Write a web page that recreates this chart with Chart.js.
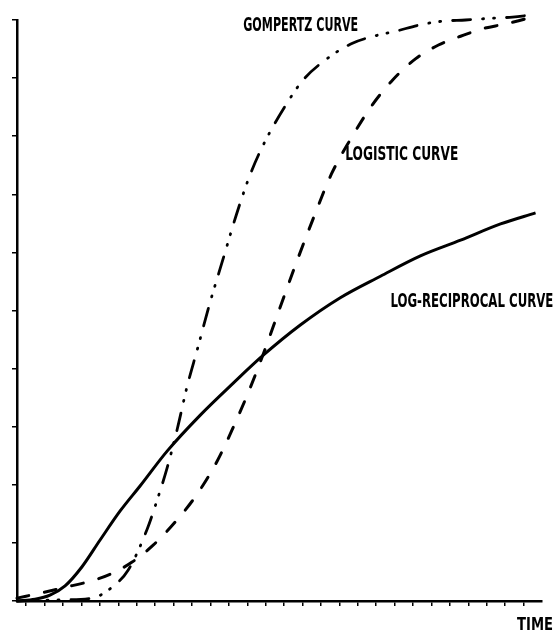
<!DOCTYPE html>
<html>
<head>
<meta charset="utf-8">
<script src="https://cdn.jsdelivr.net/npm/chart.js@4.4.0/dist/chart.umd.min.js"></script>
<style>
    html, body { margin: 0; padding: 0; background: #fff; }
    #wrap { width: 554px; height: 632px; position: relative; }
</style>
</head>
<body>
<div id="wrap"><canvas id="growthChart"></canvas></div>
<script>
// Axis tick values (no tick labels on the original, only marks)
const xTicks = [0, 1, 2, 3, 4, 5, 6, 7, 8, 9, 10, 11, 12, 13, 14, 15, 16, 17, 18, 19, 20, 21, 22, 23, 24, 25, 26, 27];
const yTicks = [0, 1, 2, 3, 4, 5, 6, 7, 8, 9, 10];

// Curves (time units, growth units)
const gompertzX = [-0.50, 1.84, 3.58, 4.55, 5.53, 6.57, 7.11, 7.65, 8.20, 8.74, 9.28, 9.99, 10.70, 11.40, 12.11, 12.87, 14.12, 15.04, 16.40, 17.71, 18.85, 20.10, 21.29, 22.60, 23.85, 25.21, 26.40, 27.49];
const gompertzY = [0, 0.02, 0.05, 0.21, 0.53, 1.24, 1.74, 2.29, 2.96, 3.70, 4.32, 5.15, 5.90, 6.64, 7.30, 7.85, 8.55, 8.97, 9.35, 9.60, 9.72, 9.81, 9.91, 9.98, 10.00, 10.03, 10.05, 10.09];

const logisticX = [-0.50, 0.97, 2.16, 3.36, 4.55, 5.75, 6.89, 8.09, 9.28, 10.37, 11.24, 12.11, 12.87, 13.79, 14.72, 15.64, 16.57, 17.65, 18.79, 19.93, 21.13, 22.38, 23.58, 24.77, 25.97, 27.22, 27.82];
const logisticY = [0.05, 0.15, 0.24, 0.33, 0.46, 0.67, 0.96, 1.36, 1.84, 2.41, 2.99, 3.63, 4.25, 5.06, 5.87, 6.63, 7.35, 7.97, 8.54, 8.98, 9.33, 9.57, 9.72, 9.85, 9.93, 10.03, 10.09];

const logRecipX = [-0.50, 0.48, 1.29, 2.11, 3.03, 4.01, 5.10, 6.18, 7.65, 9.45, 11.24, 12.87, 14.88, 17.05, 19.23, 21.40, 23.58, 25.75, 27.65];
const logRecipY = [0, 0.03, 0.10, 0.26, 0.59, 1.05, 1.55, 1.98, 2.58, 3.20, 3.75, 4.23, 4.75, 5.22, 5.59, 5.94, 6.21, 6.49, 6.68];

const curveNames = ['GOMPERTZ CURVE', 'LOGISTIC CURVE', 'LOG-RECIPROCAL CURVE'];
const timeTitle = 'TIME';

const LABEL_FONT = '"Liberation Sans Narrow", "DejaVu Sans Condensed", sans-serif';

function toPoints(xs, ys) {
    return xs.map((x, i) => ({ x: x, y: ys[i] }));
}

// squeeze text to a given width, like the plotter lettering
function drawFitted(ctx, text, left, baseline, width, size) {
    ctx.save();
    ctx.font = `bold ${size}px ${LABEL_FONT}`;
    const w = ctx.measureText(text).width;
    ctx.translate(left, baseline);
    ctx.scale(width / w, 1);
    ctx.fillStyle = '#000';
    ctx.textBaseline = 'alphabetic';
    ctx.fillText(text, 0, 0);
    ctx.restore();
}

const curveLabels = {
    id: 'curveLabels',
    afterDraw(chart) {
        const { ctx, chartArea, scales: { x, y } } = chart;
        const spots = [
            { text: curveNames[0], x: 11.78, y: 9.93, w: 115 },
            { text: curveNames[1], x: 17.32, y: 7.71, w: 113 },
            { text: curveNames[2], x: 19.77, y: 5.18, w: 163 }
        ];
        spots.forEach(s => {
            drawFitted(ctx, s.text, x.getPixelForValue(s.x), y.getPixelForValue(s.y) + 7, s.w, 20);
        });
        drawFitted(ctx, timeTitle, chartArea.right - 25, chartArea.bottom + 29, 36, 18);
    }
};

const lineStyle = {
    borderColor: '#000',
    borderWidth: 3,
    pointRadius: 0,
    fill: false,
    cubicInterpolationMode: 'monotone',
    clip: false
};

new Chart(document.getElementById('growthChart'), {
    type: 'line',
    data: {
        datasets: [
            { ...lineStyle, label: curveNames[0], data: toPoints(gompertzX, gompertzY), borderDash: [18, 12, 1, 10, 1, 12], borderCapStyle: 'round', borderWidth: 2.8 },
            { ...lineStyle, label: curveNames[1], data: toPoints(logisticX, logisticY), borderDash: [12, 16], borderCapStyle: 'round', borderWidth: 3 },
            { ...lineStyle, label: curveNames[2], data: toPoints(logRecipX, logRecipY), borderWidth: 3 }
        ]
    },
    options: {
        responsive: true,
        maintainAspectRatio: false,
        animation: false,
        layout: { padding: { left: 12, right: 12, top: 20, bottom: 26 } },
        plugins: {
            legend: { display: false },
            tooltip: { enabled: false }
        },
        scales: {
            x: {
                type: 'linear',
                min: -0.5,
                max: 28,
                afterBuildTicks: (scale) => { scale.ticks = xTicks.map(v => ({ value: v })); },
                afterFit: (scale) => { scale.height = 5; },
                ticks: { display: false },
                grid: { drawOnChartArea: false, drawTicks: true, tickLength: 5, color: '#000', lineWidth: 1.5 },
                border: { display: true, color: '#000', width: 2.5 }
            },
            y: {
                type: 'linear',
                min: 0,
                max: 10,
                afterBuildTicks: (scale) => { scale.ticks = yTicks.map(v => ({ value: v })); },
                afterFit: (scale) => { scale.width = 5; },
                ticks: { display: false },
                grid: { drawOnChartArea: false, drawTicks: true, tickLength: 5, color: '#000', lineWidth: 1.5 },
                border: { display: true, color: '#000', width: 2.5 }
            }
        }
    },
    plugins: [curveLabels]
});
</script>
</body>
</html>
